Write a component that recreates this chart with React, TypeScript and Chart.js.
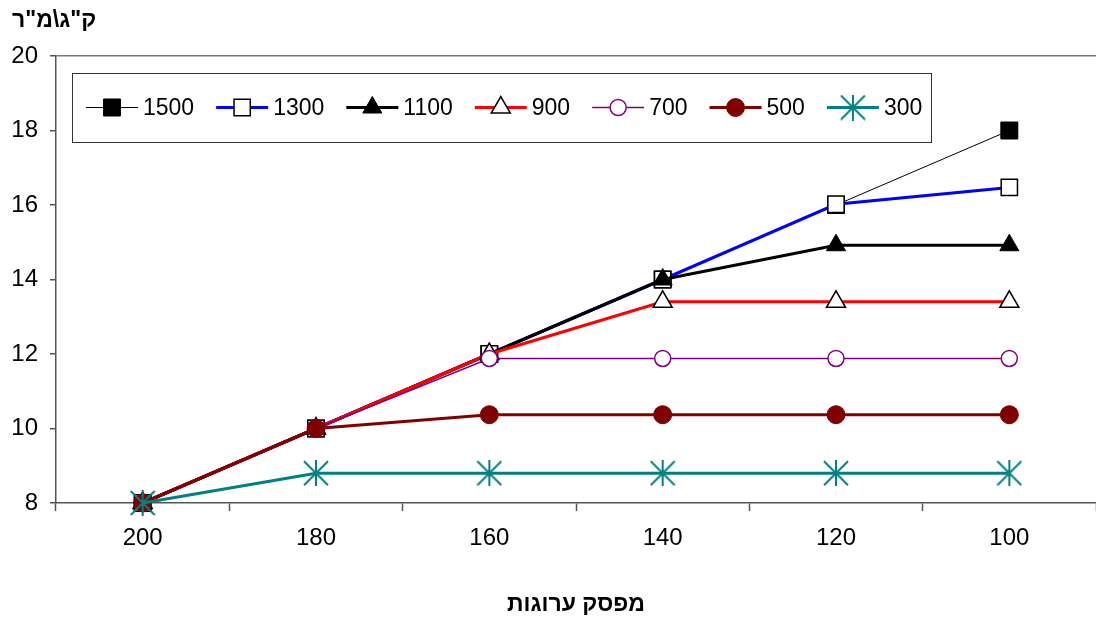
import React, { useEffect, useRef } from "react";
import { Chart, registerables } from "chart.js";

Chart.register(...registerables);

const categories = ["200", "180", "160", "140", "120", "100"];
const seriesNames = ["1500", "1300", "1100", "900", "700", "500", "300"];
const s1500 = [8, 10, 12, 14, 16, 18];
const s1300 = [8, 10, 12, 14, 16.02, 16.47];
const s1100 = [8, 10, 12, 14, 14.92, 14.92];
const s900 = [8, 10, 12, 13.4, 13.4, 13.4];
const s700 = [8, 10, 11.88, 11.88, 11.88, 11.88];
const s500 = [8, 10, 10.37, 10.37, 10.37, 10.37];
const s300 = [8, 8.8, 8.8, 8.8, 8.8, 8.8];
const yTitle = 'ק"ג\\מ"ר';
const xTitle = "מפסק ערוגות";

const FONT = "'Liberation Sans', Arial, sans-serif";

function makeStar(color: string) {
  const c = document.createElement("canvas");
  const s = 26;
  c.width = s;
  c.height = s;
  const g = c.getContext("2d")!;
  g.strokeStyle = color;
  g.lineWidth = 2;
  g.beginPath();
  g.moveTo(s / 2, 0);
  g.lineTo(s / 2, s);
  g.moveTo(1, 1);
  g.lineTo(s - 1, s - 1);
  g.moveTo(s - 1, 1);
  g.lineTo(1, s - 1);
  g.stroke();
  return c;
}

export default function App() {
  const ref = useRef<HTMLCanvasElement>(null);

  useEffect(() => {
    const star = makeStar("#008080");
    const styles = [
      { color: "#000000", width: 1, ps: "rect", r: 12, bg: "#000000", bc: "#000000", bw: 1 },
      { color: "#0000FF", width: 3, ps: "rect", r: 11.5, bg: "#FFFFFF", bc: "#000000", bw: 1.5 },
      { color: "#000000", width: 3, ps: "triangle", r: 11, bg: "#000000", bc: "#000000", bw: 1 },
      { color: "#FF0000", width: 3, ps: "triangle", r: 11, bg: "#FFFFFF", bc: "#000000", bw: 1.5 },
      { color: "#800080", width: 1.5, ps: "circle", r: 8, bg: "#FFFFFF", bc: "#800080", bw: 1.5 },
      { color: "#800000", width: 3, ps: "circle", r: 9, bg: "#800000", bc: "#800000", bw: 1 },
      { color: "#008080", width: 3, ps: star as any, r: 13, bg: "#008080", bc: "#008080", bw: 1 },
    ];
    const values = [s1500, s1300, s1100, s900, s700, s500, s300];

    const datasets = values.map((v, i) => ({
      label: seriesNames[i],
      data: v,
      borderColor: styles[i].color,
      borderWidth: styles[i].width,
      pointStyle: styles[i].ps,
      pointRadius: styles[i].r,
      pointBackgroundColor: styles[i].bg,
      pointBorderColor: styles[i].bc,
      pointBorderWidth: styles[i].bw,
      tension: 0,
      fill: false,
      clip: false,
      order: values.length - 1 - i,
    }));

    function drawMarker(ctx: CanvasRenderingContext2D, st: any, x: number, y: number) {
      ctx.save();
      ctx.fillStyle = st.bg;
      ctx.strokeStyle = st.bc;
      ctx.lineWidth = st.bw;
      if (st.ps === "rect") {
        const h = Math.SQRT1_2 * st.r;
        ctx.beginPath();
        ctx.rect(x - h, y - h, 2 * h, 2 * h);
        ctx.fill();
        ctx.stroke();
      } else if (st.ps === "triangle") {
        ctx.beginPath();
        let rad = 0;
        ctx.moveTo(x + Math.sin(rad) * st.r, y - Math.cos(rad) * st.r);
        rad += (2 * Math.PI) / 3;
        ctx.lineTo(x + Math.sin(rad) * st.r, y - Math.cos(rad) * st.r);
        rad += (2 * Math.PI) / 3;
        ctx.lineTo(x + Math.sin(rad) * st.r, y - Math.cos(rad) * st.r);
        ctx.closePath();
        ctx.fill();
        ctx.stroke();
      } else if (st.ps === "circle") {
        ctx.beginPath();
        ctx.arc(x, y, st.r, 0, Math.PI * 2);
        ctx.fill();
        ctx.stroke();
      } else {
        const img = st.ps as HTMLCanvasElement;
        ctx.drawImage(img, x - img.width / 2, y - img.height / 2);
      }
      ctx.restore();
    }

    const overlay = {
      id: "overlay",
      afterDraw(chart: any) {
        const ctx = chart.ctx as CanvasRenderingContext2D;
        ctx.save();
        // y title
        ctx.font = `bold 23px ${FONT}`;
        ctx.fillStyle = "#000";
        ctx.textAlign = "left";
        ctx.textBaseline = "middle";
        ctx.fillText(yTitle, 12, 21);
        // legend box
        const bx = 72, by = 73, bw = 859, bh = 69;
        ctx.fillStyle = "#fff";
        ctx.fillRect(bx, by, bw, bh);
        ctx.strokeStyle = "#333";
        ctx.lineWidth = 1;
        ctx.strokeRect(bx + 0.5, by + 0.5, bw, bh);
        ctx.font = `23px ${FONT}`;
        const cy = by + bh / 2;
        let x = 86;
        seriesNames.forEach((name, i) => {
          const st = styles[i];
          ctx.strokeStyle = st.color;
          ctx.lineWidth = st.width;
          ctx.beginPath();
          ctx.moveTo(x, cy);
          ctx.lineTo(x + 52, cy);
          ctx.stroke();
          drawMarker(ctx, st, x + 26, cy);
          ctx.fillStyle = "#000";
          ctx.textAlign = "left";
          ctx.textBaseline = "middle";
          const tx = x + 57;
          ctx.fillText(name, tx, cy + 1);
          x = tx + ctx.measureText(name).width + 22;
        });
        ctx.restore();
      },
    };

    const chart = new Chart(ref.current!, {
      type: "line",
      data: { labels: categories, datasets: datasets as any },
      plugins: [overlay],
      options: {
        animation: false,
        responsive: false,
        maintainAspectRatio: false,
        layout: { padding: { top: 56, right: 10, left: 0, bottom: 0 } },
        plugins: { legend: { display: false }, tooltip: { enabled: false }, title: { display: false } },
        scales: {
          x: {
            type: "category",
            offset: true,
            grid: { offset: true, drawOnChartArea: false, drawTicks: true, tickLength: 8, tickColor: "#555", tickWidth: 1.5 },
            border: { color: "#555", width: 1.5 },
            ticks: { color: "#000", font: { family: FONT, size: 24 }, padding: 13, maxRotation: 0 },
            title: { display: true, text: xTitle, color: "#000", font: { family: FONT, size: 23, weight: "bold" }, padding: { top: 0, bottom: 0 } },
            afterFit: (s: any) => { s.height = 115; },
          },
          y: {
            min: 8,
            max: 20,
            ticks: { stepSize: 2, color: "#000", font: { family: FONT, size: 24 }, padding: 12 },
            grid: {
              color: (c: any) => (c.tick && c.tick.value === 20 ? "#777" : "transparent"),
              lineWidth: 1.5,
              tickColor: "#555",
              tickLength: 6,
              drawTicks: true,
            },
            border: { color: "#555", width: 1.5 },
            afterFit: (s: any) => { s.width = 56; },
          },
        },
      } as any,
    });
    return () => chart.destroy();
  }, []);

  return (
    <div style={{ position: "fixed", left: 0, top: 0, width: 1096, height: 618, overflow: "hidden", background: "#fff" }}>
      <canvas ref={ref} width={1110} height={618} style={{ width: 1110, height: 618, display: "block" }} />
    </div>
  );
}
